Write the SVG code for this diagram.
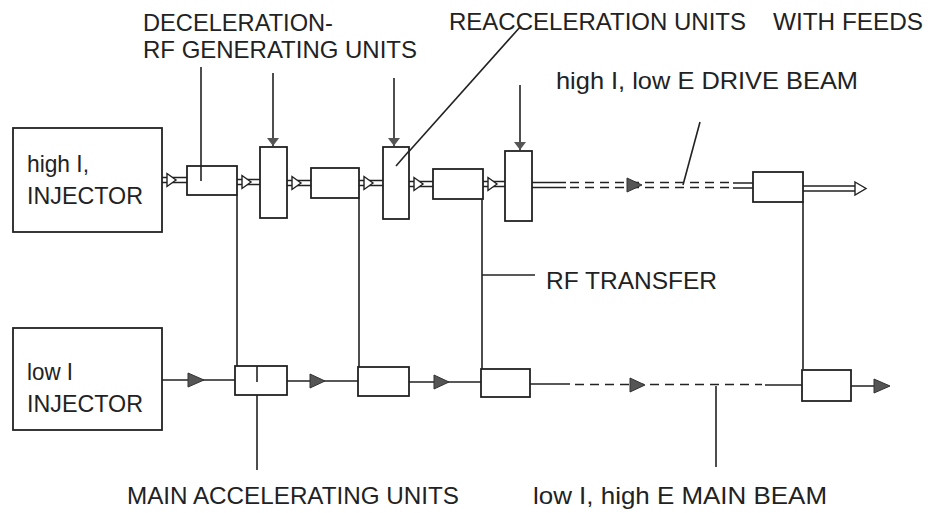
<svg xmlns="http://www.w3.org/2000/svg" xmlns:xlink="http://www.w3.org/1999/xlink" width="928" height="513" viewBox="0 0 928 513">
<style>
.ln{stroke:#222;stroke-width:1.6;fill:none}
.bx{stroke:#222;stroke-width:1.8;fill:#fff}
.db{stroke:#222;stroke-width:1.4;fill:none}
.dash{stroke-dasharray:9,6}
.tri{fill:#555;stroke:#333;stroke-width:1}
.hh{fill:#fff;stroke:#222;stroke-width:1.4}
text{font-family:"Liberation Sans",Arial,sans-serif;fill:#222;font-size:24px}
</style>
<defs>
<g id="ha"><path class="db" d="M0,-2.5 H26 M0,2.5 H26"/><path class="hh" d="M5,-6.5 L14,0 L5,6.5 Z"/></g>
<marker id="ah" markerWidth="8" markerHeight="12" refX="8" refY="6" orient="auto" markerUnits="userSpaceOnUse"><path d="M0,0 L8,6 L0,12 Z" fill="#555"/></marker>
</defs>
<g id="connectors">
<use xlink:href="#ha" x="162" y="180"/>
<use xlink:href="#ha" x="237" y="182"/>
<use xlink:href="#ha" x="287" y="183"/>
<use xlink:href="#ha" x="359" y="183"/>
<use xlink:href="#ha" x="409" y="184"/>
<use xlink:href="#ha" x="483" y="184"/>
<path class="db" d="M532,182.5 H566 M532,187.5 H566"/>
<path class="db dash" d="M570,182.5 H733 M570,187.5 H733"/>
<path class="db" d="M733,183 H753 M733,188 H753"/>
<path class="tri" d="M627,178 L642,185 L627,192 Z"/>
<path class="db" d="M803,186 H855 M803,191 H855"/>
<path class="hh" d="M855,182 L866,188.5 L855,195 Z"/>
<path class="ln" d="M237,195 V366 M359,198 V367 M482,199 V369 M803,202 V369"/>
<path class="ln" d="M482,275 H535"/>
<path class="ln" d="M273,73 V146" marker-end="url(#ah)"/>
<path class="ln" d="M394,78 V146" marker-end="url(#ah)"/>
<path class="ln" d="M520,85 V150" marker-end="url(#ah)"/>
<path class="ln" d="M201,67 V181"/>
<path class="ln" d="M521,26 L396,166"/>
<path class="ln" d="M700,122 L683,185"/>
<path class="ln" d="M162,380 H235 M287,381 H358 M409,382 H481 M530,384 H570 M765,385 H802 M851,386 H875"/>
<path class="ln dash" d="M575,384.5 H762"/>
<path class="tri" d="M188,373 L204,380 L188,387 Z"/>
<path class="tri" d="M310,374 L325,381 L310,388 Z"/>
<path class="tri" d="M434,375 L449,382 L434,389 Z"/>
<path class="tri" d="M630,378 L645,385 L630,392 Z"/>
<path class="tri" d="M874,379 L890,386 L874,393 Z"/>
<path class="ln" d="M257,382 V470 M716,386 V467"/>
</g>
<g id="high-injector"><rect class="bx" x="13" y="128" width="149" height="104"/><text x="27" y="172" textLength="62" lengthAdjust="spacingAndGlyphs">high I,</text><text x="27" y="204" textLength="116" lengthAdjust="spacingAndGlyphs">INJECTOR</text></g>
<g id="low-injector"><rect class="bx" x="13" y="328" width="149" height="102"/><text x="27" y="380" textLength="46" lengthAdjust="spacingAndGlyphs">low I</text><text x="27" y="412" textLength="116" lengthAdjust="spacingAndGlyphs">INJECTOR</text></g>
<g id="decel1"><rect class="bx" x="187" y="166" width="50" height="29"/><path class="ln" d="M201,166 V181"/></g>
<g id="rf1"><rect class="bx" x="260" y="147" width="27" height="71"/></g>
<g id="decel2"><rect class="bx" x="311" y="168" width="48" height="30"/></g>
<g id="reacc1"><rect class="bx" x="383" y="147" width="26" height="72"/><path class="ln" d="M409,151 L396,166"/></g>
<g id="decel3"><rect class="bx" x="433" y="169" width="50" height="30"/></g>
<g id="reacc2"><rect class="bx" x="505" y="151" width="27" height="70"/></g>
<g id="decel4"><rect class="bx" x="753" y="172" width="50" height="30"/></g>
<g id="main1"><rect class="bx" x="235" y="366" width="52" height="29"/><path class="ln" d="M257,366 V382"/></g>
<g id="main2"><rect class="bx" x="358" y="367" width="51" height="29"/></g>
<g id="main3"><rect class="bx" x="481" y="369" width="49" height="28"/></g>
<g id="main4"><rect class="bx" x="802" y="370" width="49" height="31"/></g>
<g id="labels">
<text x="143" y="31" textLength="190" lengthAdjust="spacingAndGlyphs">DECELERATION-</text>
<text x="143" y="58" textLength="274" lengthAdjust="spacingAndGlyphs">RF GENERATING UNITS</text>
<text x="449" y="30" textLength="297" lengthAdjust="spacingAndGlyphs">REACCELERATION UNITS</text>
<text x="773" y="30" textLength="150" lengthAdjust="spacingAndGlyphs">WITH FEEDS</text>
<text x="556" y="89" textLength="302" lengthAdjust="spacingAndGlyphs">high I, low E DRIVE BEAM</text>
<text x="546" y="289" textLength="171" lengthAdjust="spacingAndGlyphs">RF TRANSFER</text>
<text x="127" y="504" textLength="332" lengthAdjust="spacingAndGlyphs">MAIN ACCELERATING UNITS</text>
<text x="533" y="504" textLength="294" lengthAdjust="spacingAndGlyphs">low I, high E MAIN BEAM</text>
</g>
</svg>
